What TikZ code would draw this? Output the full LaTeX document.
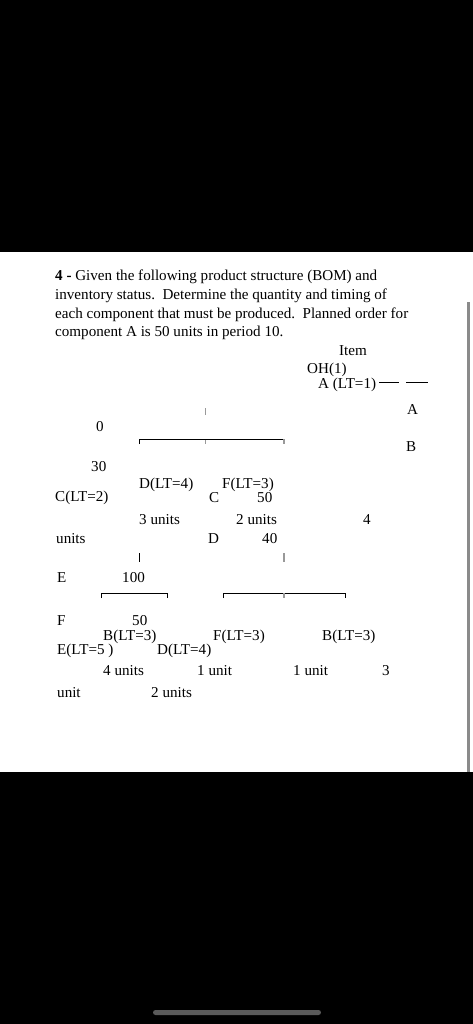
\documentclass[tikz,border=0pt]{standalone}
\usepackage{fontspec}
\setmainfont{Liberation Serif}
\definecolor{barGray}{HTML}{8A8A8A}
\definecolor{homeGray}{HTML}{5A5A5A}
\definecolor{tickGray}{HTML}{999999}
\tikzset{
    txt/.style={anchor=base west, inner sep=0pt, font=\fontsize{15.1}{19}\selectfont},
    branch/.style={line width=1pt, black},
    stub/.style={line width=1.2pt, tickGray}
}
\begin{document}
\begin{tikzpicture}[x=1pt, y=-1pt]
        \useasboundingbox (0, 0) rectangle (473, 1024);
        %draw screen background
        \fill[black] (0, 0) rectangle (473, 1024);
        \fill[white] (0, 252) rectangle (473, 772);
        \fill[barGray] (466.5, 302) rectangle (469.5, 772);
        \fill[homeGray, rounded corners=2.5pt] (153, 1010) rectangle (321, 1015);
        %question text
        \node[txt] (line1) at (55, 280) {\textbf{4 -} Given the following product structure (BOM) and};
        \node[txt] (line2) at (55, 299) {inventory status.\ \ Determine the quantity and timing of};
        \node[txt] (line3) at (55, 318) {each component that must be produced.\ \ Planned order for};
        \node[txt] (line4) at (55, 336) {component A is 50 units in period 10.};
        %item table header
        \node[txt] (item) at (339, 355) {Item};
        \node[txt] (oh) at (307, 373) {OH(1)};
        \node[txt] (rootA) at (318, 388) {A (LT=1)};
        \coordinate (dashA1) at (379, 382);
        \coordinate (dashA2) at (399, 382);
        \coordinate (dashB1) at (406, 382);
        \coordinate (dashB2) at (428, 382);
        \draw[branch] (dashA1) -- (dashA2);
        \draw[branch] (dashB1) -- (dashB2);
        \node[txt] (itemA) at (407, 414) {A};
        \node[txt] (itemB) at (406, 451) {B};
        \node[txt] (ohA) at (96, 431) {0};
        \node[txt] (ohB) at (91, 471) {30};
        %first level of the tree
        \coordinate (topA) at (205.5, 408);
        \coordinate (midA) at (205.5, 439);
        \coordinate (leftA) at (139, 439);
        \coordinate (rightA) at (284, 439);
        \draw[stub] (topA) -- ++(0, 7);
        \draw[stub] (midA) -- ++(0, 5);
        \draw[branch] (leftA) ++(0, 5) -- (leftA) -- (rightA);
        \draw[stub] (rightA) -- ++(0, 5);
        \node[txt] (dA) at (139, 488) {D(LT=4)};
        \node[txt] (fA) at (222, 488) {F(LT=3)};
        \node[txt] (cLT) at (55, 501) {C(LT=2)};
        \node[txt] (itemC) at (209, 502.5) {C};
        \node[txt] (ohC) at (257, 502.5) {50};
        \node[txt] (qtyD) at (139, 524) {3 units};
        \node[txt] (qtyF) at (236, 524) {2 units};
        \node[txt] (qtyC) at (363, 524) {4};
        \node[txt] (unitsC) at (56, 543) {units};
        \node[txt] (itemD) at (208, 543) {D};
        \node[txt] (ohD) at (262, 543) {40};
        %second level under D
        \coordinate (topD) at (139, 553);
        \coordinate (botD) at (139, 562);
        \draw[branch] (topD) -- (botD);
        \node[txt] (itemE) at (57, 582) {E};
        \node[txt] (ohE) at (122, 582) {100};
        \coordinate (leftD) at (101, 593);
        \coordinate (rightD) at (167, 593);
        \draw[branch] (leftD) ++(0, 5) -- (leftD) -- (rightD) -- ++(0, 5);
        %second level under F
        \coordinate (topF) at (284, 553);
        \coordinate (midF) at (284, 593);
        \coordinate (leftF) at (223, 593);
        \coordinate (rightF) at (345, 593);
        \draw[stub] (topF) -- ++(0, 9);
        \draw[branch] (leftF) ++(0, 5) -- (leftF) -- (rightF) -- ++(0, 5);
        \draw[stub] (midF) -- ++(0, 5);
        \node[txt] (itemF) at (57, 625) {F};
        \node[txt] (ohF) at (132, 625) {50};
        \node[txt] (bD) at (103, 640) {B(LT=3)};
        \node[txt] (fF) at (213, 640) {F(LT=3)};
        \node[txt] (bF) at (322, 640) {B(LT=3)};
        \node[txt] (eD) at (57, 654) {E(LT=5 )};
        \node[txt] (dF) at (157, 654) {D(LT=4)};
        \node[txt] (qtyB) at (103, 675) {4 units};
        \node[txt] (qtyFF) at (197, 675) {1 unit};
        \node[txt] (qtyBF) at (293, 675) {1 unit};
        \node[txt] (leadB) at (382, 675) {3};
        \node[txt] (unitE) at (57, 697) {unit};
        \node[txt] (qtyDF) at (151, 697) {2 units};
    \end{tikzpicture}
\end{document}
